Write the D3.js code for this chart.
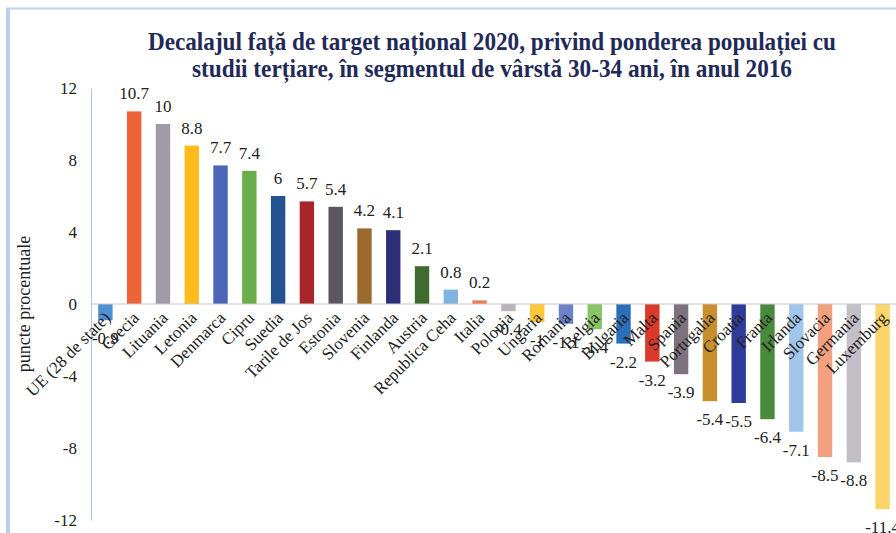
<!DOCTYPE html>
<html>
<head>
<meta charset="utf-8">
<script src="https://cdn.jsdelivr.net/npm/d3@7"></script>
<style>
  body { margin: 0; background: #fff; }
  svg { display: block; }
  text { font-family: "Liberation Serif", "Times New Roman", serif; fill: #222; }
</style>
</head>
<body>
<div id="chart"></div>
<script>
// data
var countries = ["UE (28 de state)", "Grecia", "Lituania", "Letonia", "Denmarca", "Cipru", "Suedia",
  "Tarile de Jos", "Estonia", "Slovenia", "Finlanda", "Austria", "Republica Ceha", "Italia",
  "Polonia", "Ungaria", "Romania", "Belgia", "Bulgaria", "Malta", "Spania", "Portugalia",
  "Croatia", "Franta", "Irlanda", "Slovacia", "Germania", "Luxemburg"];
var gaps = [-0.9, 10.7, 10, 8.8, 7.7, 7.4, 6, 5.7, 5.4, 4.2, 4.1, 2.1, 0.8, 0.2,
  -0.4, -1, -1.1, -1.4, -2.2, -3.2, -3.9, -5.4, -5.5, -6.4, -7.1, -8.5, -8.8, -11.4];
var yTicks = [-12, -8, -4, 0, 4, 8, 12];
var barColors = ["#4f8fd2", "#ec6436", "#a29aa6", "#fdbb1c", "#4b66b6", "#6aae4c", "#24548f",
  "#a82629", "#5e5563", "#9c6a2f", "#2d2f78", "#3f6a30", "#7fb3e2", "#f07a52",
  "#b9b3ba", "#fcc83a", "#6d82c6", "#86c466", "#2b6fba", "#d93a2a", "#7e727f", "#c98e2e",
  "#2f3b98", "#4a8a3c", "#a2c6ea", "#f2a07f", "#c3bfc6", "#fdd46a"];

var width = 896, height = 533;
var margin = {top: 88, left: 91, right: -1, bottom: 13};

var svg = d3.select("#chart").append("svg")
  .attr("width", width)
  .attr("height", height);

// frame
svg.append("line")
  .attr("x1", 6).attr("x2", width).attr("y1", 8.5).attr("y2", 8.5)
  .style("stroke", "#bcd3ee").style("stroke-width", 2);
svg.append("line")
  .attr("x1", 8).attr("x2", 8).attr("y1", 8).attr("y2", height)
  .style("stroke", "#b8d0ee").style("stroke-width", 4);

// title
var title = ["Decalajul față de target național 2020, privind ponderea populației cu",
  "studii terțiare, în segmentul de vârstă 30-34 ani, în anul 2016"];
var titleLen = [688, 600];
svg.selectAll("text.title").data(title).enter().append("text")
  .attr("class", "title")
  .attr("x", 492)
  .attr("y", function(d, i) { return 50 + i * 27; })
  .attr("text-anchor", "middle")
  .attr("textLength", function(d, i) { return titleLen[i]; })
  .attr("lengthAdjust", "spacingAndGlyphs")
  .style("font-size", "25px")
  .style("font-weight", "bold")
  .style("fill", "#1f2a58")
  .text(function(d) { return d; });

var x = d3.scaleBand()
  .domain(countries)
  .range([margin.left, width - margin.right])
  .paddingInner(0.5)
  .paddingOuter(0.25);

var y = d3.scaleLinear()
  .domain([-12, 12])
  .range([height - margin.bottom, margin.top]);

// y axis
var yAxis = svg.append("g")
  .attr("transform", "translate(" + margin.left + ",0)")
  .call(d3.axisLeft(y).tickValues(yTicks).tickSize(0).tickPadding(14)
    .tickFormat(function(d) { return String(d); }));
yAxis.select(".domain").style("stroke", "#a9c7e8").style("stroke-width", 1);
yAxis.selectAll("text")
  .style("font-family", "Liberation Serif, serif")
  .style("font-size", "17px")
  .style("fill", "#222");

svg.append("text")
  .attr("transform", "translate(30," + y(0) + ") rotate(-90)")
  .attr("text-anchor", "middle")
  .style("font-size", "18px")
  .text("puncte procentuale");

// bars
svg.selectAll("rect.bar").data(gaps).enter().append("rect")
  .attr("class", "bar")
  .attr("x", function(d, i) { return x(countries[i]); })
  .attr("width", x.bandwidth())
  .attr("y", function(d) { return y(Math.max(0, d)); })
  .attr("height", function(d) { return Math.abs(y(d) - y(0)); })
  .style("fill", function(d, i) { return barColors[i]; });

// zero line
svg.append("line")
  .attr("x1", margin.left).attr("x2", width)
  .attr("y1", y(0)).attr("y2", y(0))
  .style("stroke", "#c6c6c6").style("stroke-width", 1.2);

// category labels
svg.selectAll("text.cat").data(countries).enter().append("text")
  .attr("class", "cat")
  .attr("transform", function(d) {
    return "translate(" + (x(d) + x.bandwidth() / 2 + 6) + "," + (y(0) + 15) + ") rotate(-45)";
  })
  .attr("text-anchor", "end")
  .style("font-size", "17px")
  .text(function(d) { return d; });

// value labels
svg.selectAll("text.val").data(gaps).enter().append("text")
  .attr("class", "val")
  .attr("x", function(d, i) { return x(countries[i]) + x.bandwidth() / 2; })
  .attr("y", function(d) { return d >= 0 ? y(d) - 12 : y(d) + 24; })
  .attr("text-anchor", "middle")
  .style("font-size", "17px")
  .text(function(d) { return d; });
</script>
</body>
</html>
